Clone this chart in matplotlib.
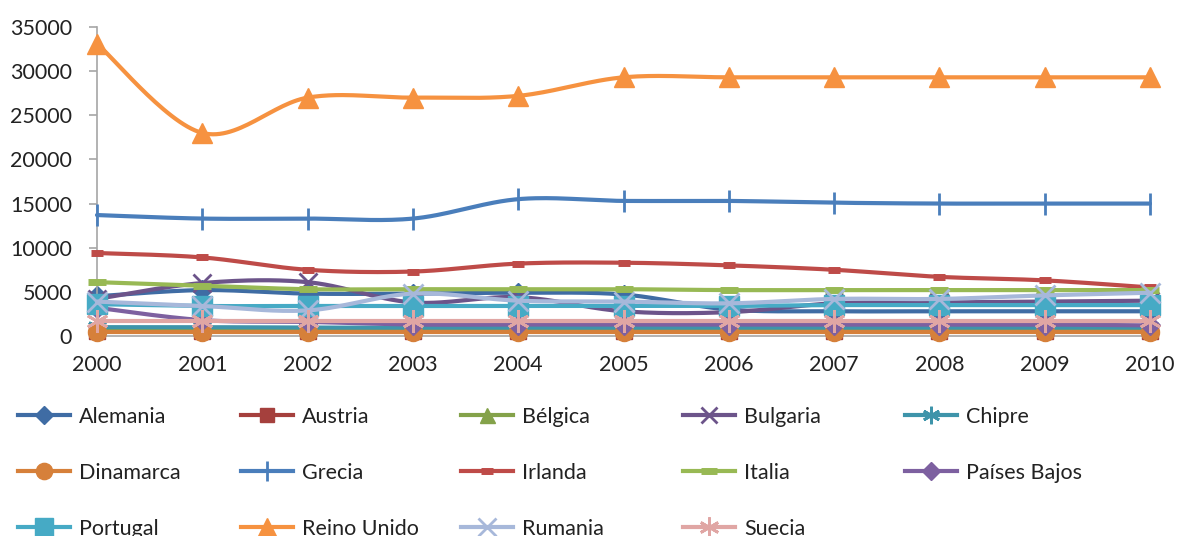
import numpy as np
import matplotlib
matplotlib.use("Agg")
import matplotlib.pyplot as plt
from matplotlib.lines import Line2D

plt.rcParams['font.family'] = ['Lato', 'DejaVu Sans']

years = [2000, 2001, 2002, 2003, 2004, 2005, 2006, 2007, 2008, 2009, 2010]

alemania     = [4500, 5200, 4800, 4800, 4900, 4700, 3000, 2800, 2800, 2800, 2800]
austria      = [600, 600, 600, 600, 600, 600, 600, 600, 600, 600, 600]
belgica      = [900, 900, 900, 850, 850, 850, 850, 850, 850, 850, 850]
bulgaria     = [4200, 6000, 6100, 3800, 4400, 2800, 2700, 3700, 3800, 3900, 4000]
chipre       = [1000, 1000, 950, 950, 950, 950, 950, 950, 950, 950, 950]
dinamarca    = [450, 450, 450, 450, 450, 450, 450, 450, 450, 450, 450]
grecia       = [13700, 13300, 13300, 13300, 15500, 15300, 15300, 15100, 15000, 15000, 15000]
irlanda      = [9400, 8900, 7500, 7300, 8200, 8300, 8000, 7500, 6700, 6300, 5500]
italia       = [6100, 5700, 5300, 5300, 5300, 5300, 5200, 5200, 5200, 5200, 5200]
paises_bajos = [3200, 1800, 1600, 1300, 1300, 1300, 1300, 1300, 1300, 1300, 1200]
portugal     = [3600, 3400, 3400, 3400, 3400, 3400, 3400, 3500, 3500, 3500, 3500]
reino_unido  = [33100, 23000, 27000, 27000, 27200, 29300, 29300, 29300, 29300, 29300, 29300]
rumania      = [3900, 3400, 2900, 4800, 4000, 3900, 3700, 4200, 4200, 4600, 4900]
suecia       = [1700, 1700, 1700, 1700, 1700, 1700, 1700, 1700, 1700, 1700, 1700]

AST = (6, 2, 0)
series = [
    ("Alemania", alemania, "#3F6CA4", "D", 10),
    ("Austria", austria, "#A5403D", "s", 11),
    ("Bélgica", belgica, "#84A24A", "^", 12),
    ("Bulgaria", bulgaria, "#6C548A", "x", 13),
    ("Chipre", chipre, "#3E94AA", AST, 14),
    ("Dinamarca", dinamarca, "#D6803A", "o", 13),
    ("Grecia", grecia, "#4A7EBB", "|", 16),
    ("Irlanda", irlanda, "#BE4B48", "_", 9),
    ("Italia", italia, "#98B954", "_", 13),
    ("Países Bajos", paises_bajos, "#7D60A0", "D", 10),
    ("Portugal", portugal, "#46AAC5", "s", 14),
    ("Reino Unido", reino_unido, "#F69240", "^", 15),
    ("Rumania", rumania, "#A7B8DA", "x", 15),
    ("Suecia", suecia, "#E0A6A4", AST, 16),
]


def smooth(x, y, n=30):
    P = np.column_stack([np.asarray(x, float), np.asarray(y, float)])
    out = []
    m = len(P)
    for i in range(m - 1):
        p0 = P[i - 1] if i > 0 else P[i]
        p1 = P[i]
        p2 = P[i + 1]
        p3 = P[i + 2] if i + 2 < m else P[i + 1]
        c1 = p1 + (p2 - p0) / 6.0
        c2 = p2 - (p3 - p1) / 6.0
        t = np.linspace(0, 1, n, endpoint=(i == m - 2))[:, None]
        seg = ((1 - t) ** 3) * p1 + 3 * ((1 - t) ** 2) * t * c1 + 3 * (1 - t) * t ** 2 * c2 + t ** 3 * p2
        out.append(seg)
    S = np.vstack(out)
    return S[:, 0], S[:, 1]


fig = plt.figure(figsize=(11.77, 5.36), dpi=100)
ax = fig.add_axes([97 / 1177, 1 - 336 / 536, (1150 - 97) / 1177, (336 - 27) / 536])

handles = []
for k, (name, vals, col, mk, ms) in enumerate(series):
    sx, sy = smooth(years, vals)
    ax.plot(sx, sy, color=col, lw=3, solid_capstyle='round', zorder=2 + k, clip_on=False)
    is_line = mk in ("x", "|", "_") or isinstance(mk, tuple)
    mew = 2 if is_line else 1
    if mk == "_":
        mew = 5
    ax.plot(years, vals, linestyle='none', marker=mk, markersize=ms, color=col,
            markeredgecolor=col, markeredgewidth=mew, zorder=2 + k, clip_on=False)
    handles.append(Line2D([], [], color=col, lw=3, marker=mk, markersize=ms * 0.9,
                          markeredgecolor=col, markeredgewidth=mew, label=name))

ax.set_xlim(2000, 2010)
ax.set_ylim(0, 35000)
ax.set_yticks(range(0, 35001, 5000))
ax.set_xticks(years)
ax.set_xticklabels([str(y) for y in years])
for s in ("top", "right"):
    ax.spines[s].set_visible(False)
ax.spines["left"].set_color("#A6A6A6")
ax.spines["bottom"].set_color("#A6A6A6")
ax.spines["left"].set_linewidth(1.2)
ax.spines["bottom"].set_linewidth(1.2)
ax.tick_params(axis='y', length=6, width=1.2, color="#A6A6A6", pad=12, labelsize=15.5, labelcolor="#222222")
ax.tick_params(axis='x', length=0, pad=14, labelsize=15.5, labelcolor="#222222")

col_x = [18, 241, 461, 683, 905]
for c in range(5):
    hs = handles[c::5]
    leg = fig.legend(handles=hs, loc='upper left',
                     bbox_to_anchor=(col_x[c] / 1177, 1 - 407 / 536),
                     bbox_transform=fig.transFigure, frameon=False, fontsize=15.5,
                     handlelength=2.4, handletextpad=0.45, labelspacing=1.67,
                     borderpad=0, borderaxespad=0, numpoints=1)
    for t in leg.get_texts():
        t.set_color("#222222")

fig.savefig("out.png", dpi=100)
